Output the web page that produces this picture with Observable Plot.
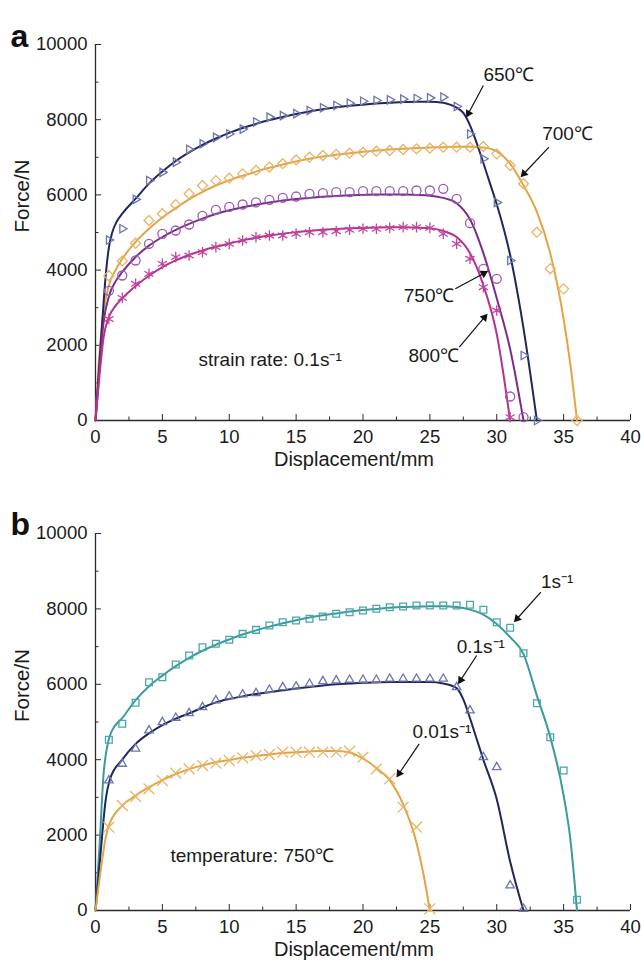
<!DOCTYPE html>
<html>
<head>
<meta charset="utf-8">
<script src="https://cdn.jsdelivr.net/npm/d3@7"></script>
<script src="https://cdn.jsdelivr.net/npm/@observablehq/plot@0.6"></script>
<style>
  html, body { margin: 0; padding: 0; background: #fff; }
  #chart { width: 641px; }
  #chart svg { display: block; }
</style>
</head>
<body>
<div id="chart"></div>
<script>
// ---------- axes ----------
const xMajor = [0, 5, 10, 15, 20, 25, 30, 35, 40];
const xMinor = [2.5, 7.5, 12.5, 17.5, 22.5, 27.5, 32.5, 37.5];
const yMajor = [0, 2000, 4000, 6000, 8000, 10000];
const yMinor = [1000, 3000, 5000, 7000, 9000];
const xTitle = "Displacement/mm";
const yTitle = "Force/N";

// ---------- panel a : strain rate 0.1 s-1 ----------
// 650 °C
const a650LineX = [0, 0.25, 0.5, 0.75, 1, 1.25, 1.6, 2, 3, 4, 5, 6, 7, 8, 9, 10, 11, 12, 13, 14, 15, 16, 17, 18, 19, 20, 21, 22, 23, 24, 25, 26, 26.5, 27, 27.5, 28, 28.5, 29, 29.5, 30, 31, 32, 33];
const a650LineY = [0, 1300, 2600, 3800, 4600, 5000, 5300, 5500, 5900, 6300, 6620, 6900, 7130, 7330, 7500, 7650, 7780, 7890, 7990, 8070, 8150, 8220, 8280, 8330, 8370, 8400, 8430, 8450, 8470, 8480, 8480, 8450, 8400, 8320, 8180, 7850, 7380, 6850, 6300, 5750, 4400, 2450, 0];
const a650MarkX = [1, 2, 3, 4, 5, 6, 7, 8, 9, 10, 11, 12, 13, 14, 15, 16, 17, 18, 19, 20, 21, 22, 23, 24, 25, 26, 27, 28, 29, 30, 31, 32, 33];
const a650MarkY = [4800, 5100, 5880, 6380, 6600, 6870, 7210, 7360, 7530, 7620, 7750, 7940, 8070, 8110, 8160, 8245, 8317, 8378, 8440, 8492, 8511, 8529, 8546, 8564, 8582, 8600, 8350, 7620, 6960, 5800, 4255, 1730, 0];
// 700 °C
const a700LineX = [0, 0.3, 0.6, 1, 1.5, 2, 3, 4, 5, 6, 7, 8, 9, 10, 11, 12, 13, 14, 15, 16, 17, 18, 19, 20, 21, 22, 23, 24, 25, 26, 27, 28, 29, 30, 31, 32, 33, 34, 35, 35.5, 36];
const a700LineY = [0, 1800, 2900, 3600, 4000, 4300, 4750, 5100, 5400, 5650, 5880, 6080, 6250, 6390, 6510, 6620, 6720, 6810, 6890, 6960, 7020, 7070, 7110, 7150, 7180, 7210, 7230, 7250, 7260, 7270, 7280, 7280, 7260, 7160, 6830, 6250, 5550, 4450, 2700, 1500, 0];
const a700MarkX = [1, 2, 3, 4, 5, 6, 7, 8, 9, 10, 11, 12, 13, 14, 15, 16, 17, 18, 19, 20, 21, 22, 23, 24, 25, 26, 27, 28, 29, 30, 31, 32, 33, 34, 35, 36];
const a700MarkY = [3850, 4240, 4715, 5320, 5500, 5740, 6030, 6250, 6380, 6445, 6560, 6650, 6740, 6830, 6930, 7003, 7048, 7074, 7109, 7136, 7162, 7181, 7207, 7226, 7242, 7269, 7269, 7269, 7287, 7092, 6782, 6295, 5008, 4034, 3501, 0];
// 750 °C
const a750LineX = [0, 0.3, 0.6, 1, 1.5, 2, 3, 4, 5, 6, 7, 8, 9, 10, 11, 12, 13, 14, 15, 16, 17, 18, 19, 20, 21, 22, 23, 24, 25, 26, 27, 28, 29, 30, 31, 32];
const a750LineY = [0, 1400, 2600, 3300, 3700, 3950, 4350, 4650, 4880, 5070, 5230, 5370, 5490, 5590, 5670, 5740, 5800, 5850, 5890, 5920, 5950, 5970, 5990, 6000, 6010, 6010, 6010, 6000, 5980, 5920, 5780, 5350, 4450, 3250, 1900, 0];
const a750MarkX = [1, 2, 3, 4, 5, 6, 7, 8, 9, 10, 11, 12, 13, 14, 15, 16, 17, 18, 19, 20, 21, 22, 23, 24, 25, 26, 27, 28, 29, 30, 31, 32];
const a750MarkY = [3450, 3856, 4255, 4700, 4965, 5053, 5213, 5440, 5600, 5680, 5745, 5800, 5869, 5922, 5957, 6028, 6046, 6073, 6073, 6099, 6099, 6099, 6099, 6117, 6117, 6162, 5896, 5248, 4034, 3768, 638, 89];
// 800 °C
const a800LineX = [0, 0.3, 0.6, 1, 1.5, 2, 3, 4, 5, 6, 7, 8, 9, 10, 11, 12, 13, 14, 15, 16, 17, 18, 19, 20, 21, 22, 23, 24, 25, 26, 27, 28, 29, 30, 31];
const a800LineY = [0, 1200, 2200, 2750, 3050, 3250, 3580, 3850, 4080, 4260, 4400, 4520, 4620, 4710, 4790, 4860, 4920, 4970, 5010, 5040, 5070, 5090, 5110, 5120, 5130, 5140, 5140, 5130, 5110, 5040, 4880, 4450, 3600, 2300, 0];
const a800MarkX = [1, 2, 3, 4, 5, 6, 7, 8, 9, 10, 11, 12, 13, 14, 15, 16, 17, 18, 19, 20, 21, 22, 23, 24, 25, 26, 27, 28, 29, 30, 31];
const a800MarkY = [2700, 3262, 3635, 3900, 4166, 4344, 4388, 4476, 4610, 4698, 4787, 4876, 4920, 4920, 4965, 5008, 5008, 5035, 5072, 5098, 5098, 5124, 5142, 5142, 5124, 4965, 4699, 4300, 3545, 2926, 88];

const aNoteText = ["650℃", "700℃", "750℃", "800℃", "strain rate: 0.1s⁻¹"];
const aNoteX = [29.0, 33.4, 23.05, 23.4, 7.7];
const aNoteY = [9200, 7630, 3320, 1730, 1620];
const aArrowX1 = [29.0, 33.9, 26.9, 27.2];
const aArrowY1 = [8910, 7269, 3502, 1950];
const aArrowX2 = [27.8, 31.9, 29.2, 29.2];
const aArrowY2 = [8110, 6516, 3944, 2793];

// ---------- panel b : temperature 750 °C ----------
// 1 s-1
const b1LineX = [0, 0.3, 0.6, 0.9, 1.2, 2, 3, 4, 5, 6, 7, 8, 9, 10, 11, 12, 13, 14, 15, 16, 17, 18, 19, 20, 21, 22, 23, 24, 25, 26, 27, 28, 29, 30, 31, 32, 33, 34, 35, 35.5, 36];
const b1LineY = [0, 1700, 3600, 4400, 4750, 5100, 5580, 5950, 6230, 6480, 6700, 6890, 7050, 7190, 7320, 7430, 7530, 7620, 7700, 7770, 7830, 7880, 7930, 7970, 8000, 8030, 8050, 8060, 8070, 8070, 8050, 7980, 7850, 7600, 7250, 6800, 5700, 4600, 3050, 1900, 0];
const b1MarkX = [1, 2, 3, 4, 5, 6, 7, 8, 9, 10, 11, 12, 13, 14, 15, 16, 17, 18, 19, 20, 21, 22, 23, 24, 25, 26, 27, 28, 29, 30, 31, 32, 33, 34, 35, 36];
const b1MarkY = [4527, 4951, 5510, 6056, 6189, 6525, 6764, 6985, 7073, 7180, 7337, 7444, 7560, 7647, 7692, 7737, 7798, 7870, 7913, 7958, 8002, 8046, 8064, 8090, 8090, 8090, 8090, 8109, 7976, 7647, 7498, 6825, 5499, 4597, 3714, 284];
// 0.1 s-1
const b01LineX = [0, 0.4, 0.75, 1.1, 2, 3, 4, 5, 6, 7, 8, 9, 10, 11, 12, 13, 14, 15, 16, 17, 18, 19, 20, 21, 22, 23, 24, 25, 26, 27, 27.5, 28, 28.5, 29, 30, 31, 32];
const b01LineY = [0, 1600, 2900, 3500, 4000, 4420, 4700, 4920, 5090, 5230, 5380, 5520, 5610, 5680, 5740, 5790, 5840, 5890, 5930, 5970, 6000, 6020, 6040, 6050, 6060, 6060, 6060, 6060, 6020, 5900, 5600, 5100, 4550, 4000, 2950, 1300, 0];
const b01MarkX = [1, 2, 3, 4, 5, 6, 7, 8, 9, 10, 11, 12, 13, 14, 15, 16, 17, 18, 19, 20, 21, 22, 23, 24, 25, 26, 27, 28, 29, 30, 31, 32];
const b01MarkY = [3448, 3890, 4289, 4775, 4995, 5111, 5234, 5393, 5570, 5676, 5729, 5764, 5853, 5923, 5941, 6012, 6082, 6101, 6119, 6119, 6119, 6146, 6146, 6146, 6146, 6146, 5923, 5305, 4066, 3801, 663, 44];
// 0.01 s-1
const b001LineX = [0, 0.4, 0.8, 1, 2, 3, 4, 5, 6, 7, 8, 9, 10, 11, 12, 13, 14, 15, 16, 17, 18, 19, 20, 21, 22, 23, 24, 24.5, 25];
const b001LineY = [0, 1100, 2000, 2250, 2780, 3050, 3270, 3460, 3620, 3750, 3850, 3930, 3990, 4050, 4100, 4140, 4180, 4200, 4220, 4230, 4230, 4190, 4030, 3780, 3450, 2820, 1800, 1000, 0];
const b001MarkX = [1, 2, 3, 4, 5, 6, 7, 8, 9, 10, 11, 12, 13, 14, 15, 16, 17, 18, 19, 20, 21, 22, 23, 24, 25];
const b001MarkY = [2210, 2785, 3024, 3227, 3448, 3643, 3757, 3846, 3907, 3979, 4050, 4111, 4138, 4200, 4200, 4200, 4200, 4200, 4226, 4066, 3757, 3493, 2740, 2210, 45];

const bNoteText = ["1s⁻¹", "0.1s⁻¹", "0.01s⁻¹", "temperature: 750℃"];
const bNoteX = [33.3, 27.0, 23.7, 5.6];
const bNoteY = [8710, 6985, 4730, 1460];
const bArrowX1 = [33.3, 28.5, 24.2];
const bArrowY1 = [8443, 6764, 4421];
const bArrowX2 = [31.4, 27.2, 22.6];
const bArrowY2 = [7692, 6056, 3581];

// ---------- drawing ----------
const FONT = "'Liberation Sans', Arial, Helvetica, sans-serif";
const zip = (xs, ys) => xs.map((x, i) => ({x, y: ys[i]}));

function panel(cfg) {
  const arrows = cfg.ax1.map((x1, i) => ({x1, y1: cfg.ay1[i], x2: cfg.ax2[i], y2: cfg.ay2[i]}));
  const notes = cfg.nt.map((t, i) => ({t, x: cfg.nx[i], y: cfg.ny[i]}));

  function build(heads) {
    const marks = [
      Plot.axisX({ticks: xMajor, tickSize: -6, tickPadding: 15, tickFormat: d => String(d), label: null, stroke: "#2b2b2b", fill: "#1a1a1a", fontSize: 18.5}),
      Plot.axisX({ticks: xMinor, tickSize: -3.5, tickFormat: () => "", label: null, stroke: "#2b2b2b"}),
      Plot.axisY({ticks: yMajor, tickSize: -6, tickPadding: 14, tickFormat: d => String(d), label: null, stroke: "#2b2b2b", fill: "#1a1a1a", fontSize: 18.5}),
      Plot.axisY({ticks: yMinor, tickSize: -3.5, tickFormat: () => "", label: null, stroke: "#2b2b2b"}),
      Plot.ruleX([0], {stroke: "#2b2b2b", strokeWidth: 1.3}),
      Plot.ruleY([0], {stroke: "#2b2b2b", strokeWidth: 1.3})
    ];
    for (const s of cfg.series) {
      marks.push(Plot.line(zip(s.lx, s.ly), {x: "x", y: "y", stroke: s.line, strokeWidth: 2, curve: "monotone-x"}));
    }
    for (const s of cfg.series) {
      marks.push(Plot.dot(zip(s.mx, s.my), {x: "x", y: "y", symbol: s.symbol, r: s.r, stroke: s.marker, strokeWidth: 1.3, fill: "none", rotate: s.rotate || 0}));
    }
    marks.push(Plot.link(arrows, {x1: "x1", y1: "y1", x2: "x2", y2: "y2", stroke: "#111", strokeWidth: 1.2}));
    if (heads) {
      marks.push(Plot.dot(heads, {x: "x", y: "y", rotate: "a", symbol: "triangle", r: 3.1, fill: "#111", stroke: "none"}));
    }
    marks.push(Plot.text(notes, {x: "x", y: "y", text: "t", textAnchor: "start", fontSize: 19, fill: "#1a1a1a"}));
    marks.push(Plot.text([cfg.label], {frameAnchor: "top-left", dx: -85, dy: cfg.labelDy, textAnchor: "start", fontSize: 32, fontWeight: "bold", fill: "#111"}));
    marks.push(Plot.text([yTitle], {frameAnchor: "left", dx: -73, rotate: -90, fontSize: 20.5, fill: "#1a1a1a"}));
    marks.push(Plot.text([xTitle], {frameAnchor: "bottom", dx: -9, dy: 45, fontSize: 20, fill: "#1a1a1a"}));
    return Plot.plot({
      width: 641,
      height: cfg.height,
      marginLeft: 95,
      marginRight: 11,
      marginTop: cfg.marginTop,
      marginBottom: cfg.marginBottom,
      x: {domain: [0, 40]},
      y: {domain: [0, 10000]},
      style: {fontFamily: FONT, fontSize: "18.5px", background: "#fff", color: "#1a1a1a", overflow: "visible"},
      marks
    });
  }

  // first pass: read the plot's own scales to orient filled arrowheads
  const probe = build(null);
  const sx = probe.scale("x"), sy = probe.scale("y");
  const heads = arrows.map(d => {
    const px1 = sx.apply(d.x1), py1 = sy.apply(d.y1);
    const px2 = sx.apply(d.x2), py2 = sy.apply(d.y2);
    const len = Math.hypot(px2 - px1, py2 - py1);
    const ux = (px2 - px1) / len, uy = (py2 - py1) / len;
    const cx = px2 - ux * 2.5, cy = py2 - uy * 2.5;
    return {x: sx.invert(cx), y: sy.invert(cy), a: Math.atan2(ux, -uy) * 180 / Math.PI};
  });
  return build(heads);
}

const navyL = "#1f2660", navyM = "#6d74aa";
const orangeL = "#e2a447", orangeM = "#e9b467";
const purpleL = "#7b2d8e", purpleM = "#9d5ab0";
const magentaL = "#b5338f", magentaM = "#c2459d";
const tealL = "#3a9a9c", tealM = "#48a7a9";

const chart = document.getElementById("chart");
chart.append(panel({
  label: "a", labelDy: -20, height: 481, marginTop: 44, marginBottom: 61,
  series: [
    {lx: a700LineX, ly: a700LineY, mx: a700MarkX, my: a700MarkY, line: orangeL, marker: orangeM, symbol: "diamond2", r: 4.5},
    {lx: a650LineX, ly: a650LineY, mx: a650MarkX, my: a650MarkY, line: navyL, marker: navyM, symbol: "triangle2", r: 4, rotate: 90},
    {lx: a750LineX, ly: a750LineY, mx: a750MarkX, my: a750MarkY, line: purpleL, marker: purpleM, symbol: "circle", r: 4.5},
    {lx: a800LineX, ly: a800LineY, mx: a800MarkX, my: a800MarkY, line: magentaL, marker: magentaM, symbol: "asterisk", r: 5}
  ],
  nt: aNoteText, nx: aNoteX, ny: aNoteY,
  ax1: aArrowX1, ay1: aArrowY1, ax2: aArrowX2, ay2: aArrowY2
}));
chart.append(panel({
  label: "b", labelDy: -21, height: 482, marginTop: 52, marginBottom: 53,
  series: [
    {lx: b1LineX, ly: b1LineY, mx: b1MarkX, my: b1MarkY, line: tealL, marker: tealM, symbol: "square2", r: 4.3},
    {lx: b01LineX, ly: b01LineY, mx: b01MarkX, my: b01MarkY, line: navyL, marker: navyM, symbol: "triangle2", r: 4},
    {lx: b001LineX, ly: b001LineY, mx: b001MarkX, my: b001MarkY, line: orangeL, marker: orangeM, symbol: "times", r: 5}
  ],
  nt: bNoteText, nx: bNoteX, ny: bNoteY,
  ax1: bArrowX1, ay1: bArrowY1, ax2: bArrowX2, ay2: bArrowY2
}));
</script>
</body>
</html>
